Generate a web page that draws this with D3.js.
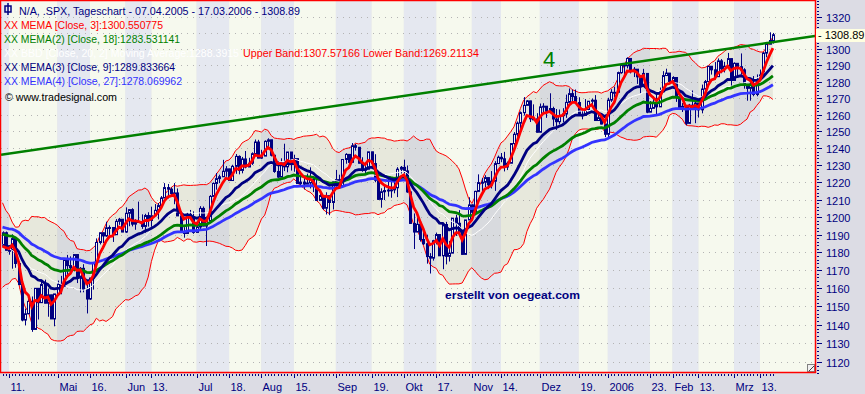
<!DOCTYPE html>
<html>
<head>
<meta charset="utf-8">
<script src="https://cdn.jsdelivr.net/npm/d3@7"></script>
<style>
body{margin:0;background:#dcdce4;}
svg{display:block;font-family:Arial,"Liberation Sans",sans-serif;}
</style>
</head>
<body>
<div id="chart"></div>
<script>
// daily candles: date, open, high, low, close
const ohlc = [
["2005-04-07",1184.1,1191.9,1183.0,1191.1],["2005-04-08",1191.1,1191.8,1181.2,1181.2],
["2005-04-11",1181.2,1184.1,1178.7,1181.2],["2005-04-12",1181.2,1190.2,1170.9,1187.8],
["2005-04-13",1187.8,1187.8,1171.4,1173.8],["2005-04-14",1173.8,1174.7,1161.7,1162.1],
["2005-04-15",1162.1,1162.1,1141.9,1142.6],["2005-04-18",1142.6,1148.9,1139.8,1146.0],
["2005-04-19",1146.0,1154.8,1145.9,1152.8],["2005-04-20",1152.8,1155.5,1136.2,1137.5],
["2005-04-21",1137.5,1160.0,1137.5,1160.0],["2005-04-22",1160.0,1160.0,1142.9,1152.1],
["2005-04-25",1152.1,1164.8,1152.1,1162.1],["2005-04-26",1162.1,1164.8,1151.8,1151.8],
["2005-04-27",1151.8,1159.9,1144.4,1156.4],["2005-04-28",1156.4,1156.4,1143.2,1143.2],
["2005-04-29",1143.2,1156.9,1139.2,1156.9],
["2005-05-02",1156.9,1164.3,1156.9,1162.2],["2005-05-03",1162.2,1166.9,1156.7,1161.2],
["2005-05-04",1161.2,1176.0,1161.2,1175.7],["2005-05-05",1175.7,1178.6,1166.8,1172.6],
["2005-05-06",1172.6,1177.8,1170.5,1171.4],["2005-05-09",1171.4,1178.9,1169.4,1178.8],
["2005-05-10",1178.8,1178.8,1162.9,1166.2],["2005-05-11",1166.2,1171.8,1157.7,1171.1],
["2005-05-12",1171.1,1173.4,1157.8,1159.4],["2005-05-13",1159.4,1163.8,1146.2,1154.1],
["2005-05-16",1154.1,1165.8,1153.6,1165.7],["2005-05-17",1165.7,1174.4,1159.3,1173.8],
["2005-05-18",1173.8,1187.9,1173.8,1185.6],["2005-05-19",1185.6,1191.1,1184.5,1191.1],
["2005-05-20",1191.1,1191.2,1185.2,1189.3],["2005-05-23",1189.3,1197.4,1188.8,1193.9],
["2005-05-24",1193.9,1195.3,1189.9,1194.1],["2005-05-25",1194.1,1194.1,1185.9,1190.0],
["2005-05-26",1190.0,1198.9,1190.0,1197.6],["2005-05-27",1197.6,1199.6,1195.6,1198.8],
["2005-05-31",1198.8,1198.8,1191.5,1191.5],
["2005-06-01",1191.5,1205.6,1191.0,1202.2],["2005-06-02",1202.2,1204.3,1194.8,1204.3],
["2005-06-03",1204.3,1205.1,1194.7,1196.0],["2005-06-06",1196.0,1198.8,1192.8,1197.5],
["2005-06-07",1197.5,1208.9,1196.7,1197.3],["2005-06-08",1197.3,1201.6,1193.3,1194.7],
["2005-06-09",1194.7,1201.9,1191.1,1200.9],["2005-06-10",1200.9,1202.8,1194.6,1198.1],
["2005-06-13",1198.1,1206.0,1194.5,1200.8],["2005-06-14",1200.8,1207.5,1200.8,1203.9],
["2005-06-15",1203.9,1208.1,1198.7,1206.6],["2005-06-16",1206.6,1212.1,1205.5,1211.0],
["2005-06-17",1211.0,1219.6,1211.0,1217.0],["2005-06-20",1217.0,1219.1,1210.7,1216.1],
["2005-06-21",1216.1,1217.1,1211.9,1213.6],["2005-06-22",1213.6,1219.6,1207.4,1213.9],
["2005-06-23",1213.9,1216.5,1200.7,1200.7],["2005-06-24",1200.7,1200.9,1191.5,1191.6],
["2005-06-27",1191.6,1194.3,1188.3,1190.7],["2005-06-28",1190.7,1202.5,1190.7,1201.6],
["2005-06-29",1201.6,1204.1,1198.7,1199.9],["2005-06-30",1199.9,1203.3,1190.5,1191.3],
["2005-07-01",1191.3,1197.9,1191.3,1194.4],["2005-07-05",1194.4,1206.3,1192.5,1205.0],
["2005-07-06",1205.0,1206.1,1194.8,1194.9],["2005-07-07",1194.9,1198.5,1183.6,1197.9],
["2005-07-08",1197.9,1212.7,1197.2,1211.9],["2005-07-11",1211.9,1220.0,1211.9,1219.4],
["2005-07-12",1219.4,1225.5,1215.8,1222.2],["2005-07-13",1222.2,1224.5,1219.6,1223.3],
["2005-07-14",1223.3,1233.2,1223.3,1226.5],["2005-07-15",1226.5,1229.5,1223.3,1227.9],
["2005-07-18",1227.9,1227.9,1221.1,1221.1],["2005-07-19",1221.1,1230.3,1221.1,1229.4],
["2005-07-20",1229.4,1236.6,1225.0,1235.2],["2005-07-21",1235.2,1235.8,1224.7,1227.0],
["2005-07-22",1227.0,1234.9,1225.3,1233.7],["2005-07-25",1233.7,1238.4,1228.2,1229.0],
["2005-07-26",1229.0,1234.4,1229.0,1231.2],["2005-07-27",1231.2,1237.6,1230.2,1236.8],
["2005-07-28",1236.8,1245.2,1236.8,1243.7],["2005-07-29",1243.7,1245.0,1234.2,1234.2],
["2005-08-01",1234.2,1239.1,1233.8,1235.4],["2005-08-02",1235.4,1244.7,1235.4,1244.1],
["2005-08-03",1244.1,1245.9,1240.6,1245.0],["2005-08-04",1245.0,1245.0,1235.2,1235.9],
["2005-08-05",1235.9,1235.9,1225.6,1226.4],["2005-08-08",1226.4,1232.3,1222.7,1223.1],
["2005-08-09",1223.1,1234.1,1223.1,1231.4],["2005-08-10",1231.4,1242.7,1226.6,1229.1],
["2005-08-11",1229.1,1237.8,1225.9,1237.8],["2005-08-12",1237.8,1237.8,1226.9,1230.4],
["2005-08-15",1230.4,1236.2,1226.2,1233.9],["2005-08-16",1233.9,1233.9,1219.1,1219.3],
["2005-08-17",1219.3,1225.5,1218.2,1220.2],["2005-08-18",1220.2,1222.6,1215.9,1219.0],
["2005-08-19",1219.0,1225.1,1219.0,1219.7],["2005-08-22",1219.7,1228.8,1216.5,1221.7],
["2005-08-23",1221.7,1223.0,1214.4,1217.6],["2005-08-24",1217.6,1224.4,1209.4,1209.6],
["2005-08-25",1209.6,1213.7,1209.6,1212.4],["2005-08-26",1212.4,1212.4,1204.2,1205.1],
["2005-08-29",1205.1,1214.3,1201.5,1212.3],["2005-08-30",1212.3,1212.3,1201.1,1208.4],
["2005-08-31",1208.4,1220.4,1204.4,1220.3],
["2005-09-01",1220.3,1227.3,1216.2,1221.6],["2005-09-02",1221.6,1224.5,1217.8,1218.0],
["2005-09-06",1218.0,1233.6,1218.0,1233.4],["2005-09-07",1233.4,1237.1,1230.9,1236.4],
["2005-09-08",1236.4,1236.4,1229.5,1231.7],["2005-09-09",1231.7,1243.1,1231.7,1241.5],
["2005-09-12",1241.5,1242.6,1238.6,1240.6],["2005-09-13",1240.6,1240.6,1231.2,1231.2],
["2005-09-14",1231.2,1234.7,1226.2,1227.2],["2005-09-15",1227.2,1231.9,1224.9,1227.7],
["2005-09-16",1227.7,1237.9,1227.7,1237.9],["2005-09-19",1237.9,1237.9,1228.0,1231.0],
["2005-09-20",1231.0,1236.5,1220.1,1221.3],["2005-09-21",1221.3,1221.5,1209.9,1210.2],
["2005-09-22",1210.2,1216.6,1205.4,1214.6],["2005-09-23",1214.6,1218.8,1209.8,1215.3],
["2005-09-26",1215.3,1222.6,1211.8,1215.6],["2005-09-27",1215.6,1220.2,1211.1,1215.7],
["2005-09-28",1215.7,1220.9,1213.7,1216.9],["2005-09-29",1216.9,1228.9,1211.5,1227.7],
["2005-09-30",1227.7,1229.6,1225.2,1228.8],
["2005-10-03",1228.8,1233.3,1225.2,1226.7],["2005-10-04",1226.7,1229.9,1214.0,1214.5],
["2005-10-05",1214.5,1214.5,1196.3,1196.4],["2005-10-06",1196.4,1202.1,1181.9,1191.5],
["2005-10-07",1191.5,1199.7,1191.5,1195.9],["2005-10-10",1195.9,1196.5,1186.1,1187.3],
["2005-10-11",1187.3,1193.1,1184.2,1184.9],["2005-10-12",1184.9,1190.0,1173.7,1177.7],
["2005-10-13",1177.7,1179.6,1168.2,1176.8],["2005-10-14",1176.8,1187.1,1175.4,1186.6],
["2005-10-17",1186.6,1191.2,1184.5,1190.1],["2005-10-18",1190.1,1190.1,1178.1,1178.1],
["2005-10-19",1178.1,1195.8,1170.6,1195.8],["2005-10-20",1195.8,1197.3,1173.3,1177.8],
["2005-10-21",1177.8,1186.5,1174.9,1179.6],["2005-10-24",1179.6,1199.4,1179.6,1199.4],
["2005-10-25",1199.4,1201.3,1189.3,1196.5],["2005-10-26",1196.5,1204.0,1191.4,1191.4],
["2005-10-27",1191.4,1192.7,1178.9,1178.9],["2005-10-28",1178.9,1198.4,1178.9,1198.4],
["2005-10-31",1198.4,1211.4,1198.4,1207.0],
["2005-11-01",1207.0,1207.3,1201.7,1202.8],["2005-11-02",1202.8,1215.2,1201.1,1214.8],
["2005-11-03",1214.8,1224.7,1214.8,1219.9],["2005-11-04",1219.9,1222.5,1214.5,1220.1],
["2005-11-07",1220.1,1224.2,1217.3,1222.8],["2005-11-08",1222.8,1222.8,1216.1,1218.6],
["2005-11-09",1218.6,1226.6,1216.5,1220.7],["2005-11-10",1220.7,1232.4,1215.1,1231.0],
["2005-11-11",1231.0,1235.7,1231.0,1234.7],["2005-11-14",1234.7,1237.2,1231.8,1233.8],
["2005-11-15",1233.8,1237.9,1226.4,1229.0],["2005-11-16",1229.0,1232.2,1227.2,1231.2],
["2005-11-17",1231.2,1242.9,1231.2,1242.8],["2005-11-18",1242.8,1249.6,1240.4,1248.3],
["2005-11-21",1248.3,1255.9,1246.9,1254.9],["2005-11-22",1254.9,1261.9,1251.4,1261.2],
["2005-11-23",1261.2,1270.6,1259.5,1265.6],["2005-11-25",1265.6,1268.8,1265.6,1268.3],
["2005-11-28",1268.3,1268.4,1255.6,1257.5],["2005-11-29",1257.5,1266.2,1257.5,1257.5],
["2005-11-30",1257.5,1260.9,1249.4,1249.5],
["2005-12-01",1249.5,1266.7,1249.5,1264.7],["2005-12-02",1264.7,1266.9,1261.4,1265.1],
["2005-12-05",1265.1,1265.1,1258.1,1262.1],["2005-12-06",1262.1,1272.9,1262.1,1263.7],
["2005-12-07",1263.7,1264.8,1253.0,1257.4],["2005-12-08",1257.4,1263.4,1250.9,1255.8],
["2005-12-09",1255.8,1263.1,1254.2,1259.4],["2005-12-12",1259.4,1263.9,1255.5,1260.4],
["2005-12-13",1260.4,1272.1,1258.1,1267.4],["2005-12-14",1267.4,1275.8,1267.1,1272.7],
["2005-12-15",1272.7,1275.2,1267.7,1270.9],["2005-12-16",1270.9,1275.2,1267.3,1267.3],
["2005-12-19",1267.3,1270.5,1259.3,1259.9],["2005-12-20",1259.9,1263.9,1257.2,1259.6],
["2005-12-21",1259.6,1269.4,1259.6,1262.8],["2005-12-22",1262.8,1268.2,1262.5,1268.1],
["2005-12-23",1268.1,1269.8,1265.9,1268.7],["2005-12-27",1268.7,1271.8,1256.5,1256.5],
["2005-12-28",1256.5,1261.1,1256.5,1258.2],["2005-12-29",1258.2,1260.6,1254.2,1254.4],
["2005-12-30",1254.4,1254.4,1246.6,1248.3],
["2006-01-03",1248.3,1270.2,1245.7,1268.8],["2006-01-04",1268.8,1275.4,1267.7,1273.5],
["2006-01-05",1273.5,1276.9,1270.3,1273.5],["2006-01-06",1273.5,1286.1,1273.5,1285.5],
["2006-01-09",1285.5,1290.8,1284.8,1290.2],["2006-01-10",1290.2,1290.2,1283.8,1289.7],
["2006-01-11",1289.7,1294.9,1288.1,1294.2],["2006-01-12",1294.2,1294.2,1285.0,1286.1],
["2006-01-13",1286.1,1288.9,1282.8,1287.6],["2006-01-17",1287.6,1287.6,1278.6,1282.9],
["2006-01-18",1282.9,1282.9,1273.0,1277.9],["2006-01-19",1277.9,1287.8,1277.9,1285.0],
["2006-01-20",1285.0,1285.0,1260.9,1261.5],["2006-01-23",1261.5,1268.2,1261.5,1263.8],
["2006-01-24",1263.8,1271.1,1263.8,1266.9],["2006-01-25",1266.9,1271.9,1259.4,1264.7],
["2006-01-26",1264.7,1276.4,1264.7,1273.8],["2006-01-27",1273.8,1286.4,1273.8,1283.7],
["2006-01-30",1283.7,1287.9,1283.7,1285.2],["2006-01-31",1285.2,1285.2,1279.3,1280.1],
["2006-02-01",1280.1,1283.3,1277.8,1282.5],["2006-02-02",1282.5,1282.5,1267.7,1270.8],
["2006-02-03",1270.8,1270.9,1262.9,1264.0],["2006-02-06",1264.0,1267.0,1261.6,1265.0],
["2006-02-07",1265.0,1265.8,1253.6,1254.8],["2006-02-08",1254.8,1266.5,1254.8,1265.7],
["2006-02-09",1265.7,1274.6,1262.8,1263.8],["2006-02-10",1263.8,1269.9,1254.9,1267.0],
["2006-02-13",1267.0,1267.0,1258.3,1262.9],["2006-02-14",1262.9,1278.2,1260.8,1275.5],
["2006-02-15",1275.5,1281.0,1271.1,1280.0],["2006-02-16",1280.0,1289.4,1280.0,1289.4],
["2006-02-17",1289.4,1289.5,1284.3,1287.2],["2006-02-21",1287.2,1292.0,1281.3,1283.0],
["2006-02-22",1283.0,1294.2,1283.0,1292.7],["2006-02-23",1292.7,1293.8,1285.1,1287.8],
["2006-02-24",1287.8,1292.1,1285.6,1289.4],["2006-02-27",1289.4,1297.6,1289.4,1294.1],
["2006-02-28",1294.1,1294.1,1277.6,1280.7],
["2006-03-01",1280.7,1291.8,1280.7,1291.2],["2006-03-02",1291.2,1291.2,1283.2,1289.1],
["2006-03-03",1289.1,1297.3,1284.2,1287.2],["2006-03-06",1287.2,1288.2,1275.7,1278.3],
["2006-03-07",1278.3,1278.3,1268.4,1275.9],["2006-03-08",1275.9,1280.3,1268.4,1278.5],
["2006-03-09",1278.5,1283.4,1271.1,1272.2],["2006-03-10",1272.2,1284.4,1271.1,1281.4],
["2006-03-13",1281.4,1287.4,1281.4,1284.1],["2006-03-14",1284.1,1298.1,1282.7,1297.5],
["2006-03-15",1297.5,1304.4,1294.9,1303.0],["2006-03-16",1303.0,1310.4,1303.0,1305.3],
["2006-03-17",1305.3,1310.0,1303.4,1308.89]
];

// closes before the first visible bar (only used to warm up the indicators)
const priorCloses = [1207.0,1209.3,1200.1,1206.8,1197.8,1188.1,1190.2,1189.7,1183.8,1171.7,
                     1172.5,1171.4,1174.3,1165.4,1181.4,1180.6,1172.9,1176.1,1180.6,1184.1];

// hand drawn trend line: two points on it
const trendLine = [["2005-04-07",1236.3],["2006-03-17",1304.3]];

const yTicks = [1120,1130,1140,1150,1160,1170,1180,1190,1200,1210,1220,1230,1240,1250,1260,1270,1280,1290,1300,1310,1320];
const xLabels = [["2005-04-11","11."],["2005-05-02","Mai"],["2005-05-16","16."],["2005-06-01","Jun"],
  ["2005-06-13","13."],["2005-07-01","Jul"],["2005-07-18","18."],["2005-08-01","Aug"],["2005-08-15","15."],
  ["2005-09-01","Sep"],["2005-09-19","19."],["2005-10-03","Okt"],["2005-10-17","17."],["2005-11-01","Nov"],
  ["2005-11-14","14."],["2005-12-01","Dez"],["2005-12-19","19."],["2006-01-03","2006"],["2006-01-23","23."],
  ["2006-02-01","Feb"],["2006-02-13","13."],["2006-03-01","Mrz"],["2006-03-13","13."]];

const memas = [
  {name:"MEMA", len:3,  color:"#ff0000"},
  {name:"MEMA(2)", len:18, color:"#008000"},
  {name:"MEMA(3)", len:9,  color:"#000080"},
  {name:"MEMA(4)", len:27, color:"#3333ff"}
];

const W = 865, H = 394;
const plot = {l:1, t:1, r:815, b:372};
const navy = "#000080";

const dates = ohlc.map(d => d[0]);
const closes = ohlc.map(d => d[4]);
const idx = dt => dates.indexOf(dt);

const x = d3.scaleLinear().domain([0, ohlc.length - 1]).range([2.5, 2.5 + 3.237*(ohlc.length - 1)]);
const y = d3.scaleLog().domain([1120, 1320]).range([362, 17]);

// indicators
const all = priorCloses.concat(closes);
const off = priorCloses.length;
function mema(n){
  let e = all[0], out = [];
  all.forEach((c, i) => { if(i > 0) e += (c - e)/n; if(i >= off) out.push(e); });
  return out;
}
const bb = closes.map((c, i) => {
  const win = all.slice(off + i - 19, off + i + 1);
  const m = d3.mean(win);
  const sd = Math.sqrt(d3.mean(win, v => (v - m)*(v - m)));
  return {m:m, up:m + 2*sd, lo:m - 2*sd};
});

const svg = d3.select("#chart").append("svg").attr("width", W).attr("height", H);
svg.append("rect").attr("width", W).attr("height", H).attr("fill", "#dcdce4");

svg.append("clipPath").attr("id", "pc").append("rect")
  .attr("x", plot.l).attr("y", plot.t).attr("width", plot.r - plot.l).attr("height", plot.b - plot.t);
const g = svg.append("g").attr("clip-path", "url(#pc)");

// background stripes between the date labels
const bounds = [plot.l].concat(xLabels.map(d => x(idx(d[0])))).concat([plot.r]);
for(let i = 0; i < bounds.length - 1; i++){
  g.append("rect").attr("x", bounds[i]).attr("y", plot.t)
    .attr("width", bounds[i+1] - bounds[i]).attr("height", plot.b - plot.t)
    .attr("fill", i % 2 == 0 ? "#e5e8f0" : "#f6f9ee");
}

// grid
yTicks.forEach(v => {
  g.append("line").attr("x1", plot.l).attr("x2", plot.r).attr("y1", Math.round(y(v)) + 0.5).attr("y2", Math.round(y(v)) + 0.5)
    .attr("stroke", "#b4b4b4").attr("stroke-dasharray", "1,5");
});

// bollinger band fill + lines
const area = d3.area().x((d, i) => x(i)).y0(d => y(d.lo)).y1(d => y(d.up));
g.append("path").datum(bb).attr("d", area).attr("fill", "#8c8470").attr("fill-opacity", 0.14);
const bandLine = key => d3.line().x((d, i) => x(i)).y(d => y(d[key]));
g.append("path").datum(bb).attr("d", bandLine("up")).attr("fill", "none").attr("stroke", "#ff0000").attr("stroke-width", 1);
g.append("path").datum(bb).attr("d", bandLine("lo")).attr("fill", "none").attr("stroke", "#ff0000").attr("stroke-width", 1);

// candles
const cg = g.append("g");
ohlc.forEach((d, i) => {
  const cx = Math.round(x(i)) + 0.5;
  cg.append("line").attr("x1", cx).attr("x2", cx).attr("y1", y(d[2])).attr("y2", y(d[3]))
    .attr("stroke", navy).attr("stroke-width", 1);
  const top = y(Math.max(d[1], d[4])), bot = y(Math.min(d[1], d[4]));
  cg.append("rect").attr("x", cx - 1).attr("width", 2).attr("y", top).attr("height", Math.max(1, bot - top))
    .attr("fill", d[4] >= d[1] ? "#f6f9ee" : navy).attr("stroke", navy).attr("stroke-width", 1);
});

// middle band (white)
g.append("path").datum(bb).attr("d", bandLine("m")).attr("fill", "none").attr("stroke", "#ffffff").attr("stroke-width", 1);

// MEMA lines
[memas[3], memas[1], memas[2], memas[0]].forEach(m => {
  const vals = mema(m.len);
  g.append("path").datum(vals)
    .attr("d", d3.line().x((d, i) => x(i)).y(d => y(d)))
    .attr("fill", "none").attr("stroke", m.color).attr("stroke-width", 2.8);
});

// trend line, extended to both plot edges
const t0 = [x(idx(trendLine[0][0])), y(trendLine[0][1])];
const t1 = [x(idx(trendLine[1][0])), y(trendLine[1][1])];
const slope = (t1[1] - t0[1])/(t1[0] - t0[0]);
g.append("line").attr("x1", plot.l).attr("y1", t0[1] + slope*(plot.l - t0[0]))
  .attr("x2", plot.r).attr("y2", t0[1] + slope*(plot.r - t0[0]))
  .attr("stroke", "#008000").attr("stroke-width", 2.5);

g.append("text").attr("x", 549).attr("y", 67).attr("text-anchor", "middle")
  .attr("font-size", 22).attr("fill", "#008000").text("4");

g.append("text").attr("x", 445).attr("y", 299).attr("font-size", 11).attr("font-weight", "bold")
  .attr("fill", navy).attr("textLength", 135).attr("lengthAdjust", "spacingAndGlyphs").text("erstellt von oegeat.com");

// little resize grip in the lower right corner of the plot
g.append("rect").attr("x", 807.5).attr("y", 364.5).attr("width", 7).attr("height", 7)
  .attr("fill", "#f0f0f0").attr("stroke", "#808080");
g.append("line").attr("x1", 809).attr("y1", 371).attr("x2", 814).attr("y2", 366).attr("stroke", "#404040");

// frame
svg.append("rect").attr("x", plot.l - 0.5).attr("y", plot.t - 0.5).attr("width", plot.r - plot.l + 1)
  .attr("height", plot.b - plot.t + 1).attr("fill", "none").attr("stroke", "#ff0000").attr("stroke-width", 1.5);

// right axis
const ax = svg.append("g");
const lastC = closes[closes.length - 1];
const lastY = Math.round(y(lastC));
for(let v = 1114; v <= 1330; v += 2){
  const yy = Math.round(y(v)) + 0.5;
  if(yy < plot.t || yy > plot.b + 2) continue;
  ax.append("line").attr("x1", 817).attr("x2", 819).attr("y1", yy).attr("y2", yy).attr("stroke", navy);
}
yTicks.forEach(v => {
  const yy = Math.round(y(v)) + 0.5;
  ax.append("line").attr("x1", 817).attr("x2", 822).attr("y1", yy).attr("y2", yy).attr("stroke", navy);
  // the last-price box covers labels right under it
  if(Math.abs(yy - lastY) < 10) return;
  ax.append("text").attr("x", 826).attr("y", yy + 4).attr("font-size", 11).attr("fill", navy).text(v);
});
ax.append("rect").attr("x", 816).attr("y", lastY - 6).attr("width", 49).attr("height", 13).attr("fill", "#ffffe1");
ax.append("text").attr("x", 818).attr("y", lastY + 4).attr("font-size", 11).attr("fill", "#000000")
  .text("- " + d3.format(".2f")(lastC));

// bottom axis
ohlc.forEach((d, i) => {
  const xx = Math.round(x(i)) + 0.5;
  ax.append("line").attr("x1", xx).attr("x2", xx).attr("y1", 374).attr("y2", 376).attr("stroke", navy);
});
xLabels.forEach(l => {
  const xx = Math.round(x(idx(l[0]))) + 0.5;
  ax.append("line").attr("x1", xx).attr("x2", xx).attr("y1", 374).attr("y2", 378).attr("stroke", navy);
  ax.append("text").attr("x", xx + 1).attr("y", 391).attr("font-size", 11).attr("fill", navy).text(l[1]);
});

// legend (widths matched to the original screenshot)
const lg = svg.append("g").attr("font-size", 11);
lg.append("rect").attr("x", 5).attr("y", 6).attr("width", 6).attr("height", 6).attr("fill", "none").attr("stroke", navy).attr("stroke-width", 1.5);
lg.append("line").attr("x1", 8).attr("x2", 8).attr("y1", 3).attr("y2", 15).attr("stroke", navy).attr("stroke-width", 1.5);
const rows = [
  ["N/A, .SPX, Tageschart - 07.04.2005 - 17.03.2006 - " + d3.format(".2f")(lastC), navy, 19, 15, 281],
  ["XX MEMA [Close, 3]:1300.550775", memas[0].color, 4, 29, 159],
  ["XX MEMA(2) [Close, 18]:1283.531141", memas[1].color, 4, 43, 176],
  ["XX BBD [Close, 20, 2] Moving Average:1288.3915", "#ffffff", 4, 57, 235],
  ["Upper Band:1307.57166 Lower Band:1269.21134", "#ff0000", 243, 57, 236],
  ["XX MEMA(3) [Close, 9]:1289.833664", memas[2].color, 4, 71, 171],
  ["XX MEMA(4) [Close, 27]:1278.069962", memas[3].color, 4, 85, 178],
  ["\u00a9 www.tradesignal.com", "#000000", 5, 101, 112]
];
rows.forEach(r => lg.append("text").attr("x", r[2]).attr("y", r[3]).attr("fill", r[1])
  .attr("textLength", r[4]).attr("lengthAdjust", "spacingAndGlyphs").text(r[0]));
</script>
</body>
</html>
